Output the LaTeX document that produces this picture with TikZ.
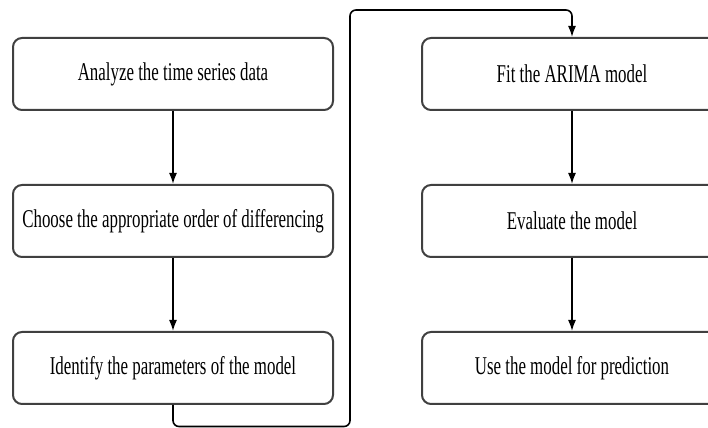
\documentclass[tikz,border=0pt]{standalone}
\usepackage{fontspec}
\setmainfont[FakeStretch=0.66]{Liberation Serif}
\usetikzlibrary{arrows.meta,positioning}

\begin{document}
\begin{tikzpicture}[x=0.5pt,y=0.5pt,node distance=36.5pt and 43.5pt,>={Latex[length=5.5pt,width=4pt]},
  box/.style={draw=black!75,line width=1pt,rounded corners=4.5pt,fill=white,minimum height=36pt,font=\fontsize{12.8}{15}\selectfont}]
\clip (0,0) rectangle (708,428);
\node[box,minimum width=160pt] (ana) at (173,354) {Analyze the time series data};
\node[box,minimum width=160pt,below=of ana] (cho) {Choose the appropriate order of differencing};
\node[box,minimum width=160pt,below=of cho] (ide) {Identify the parameters of the model};
\node[box,minimum width=150pt,right=of ana] (fit) {Fit the ARIMA model};
\node[box,minimum width=150pt,below=of fit] (eva) {Evaluate the model};
\node[box,minimum width=150pt,below=of eva] (use) {Use the model for prediction};
\draw[->,thick] (ana)--(cho);
\draw[->,thick] (cho)--(ide);
\draw[->,thick,rounded corners=3pt] (ide.south) |- (350,1.5) -- (350,418) -| (fit.north);
\draw[->,thick] (fit)--(eva);
\draw[->,thick] (eva)--(use);
\end{tikzpicture}
\end{document}
